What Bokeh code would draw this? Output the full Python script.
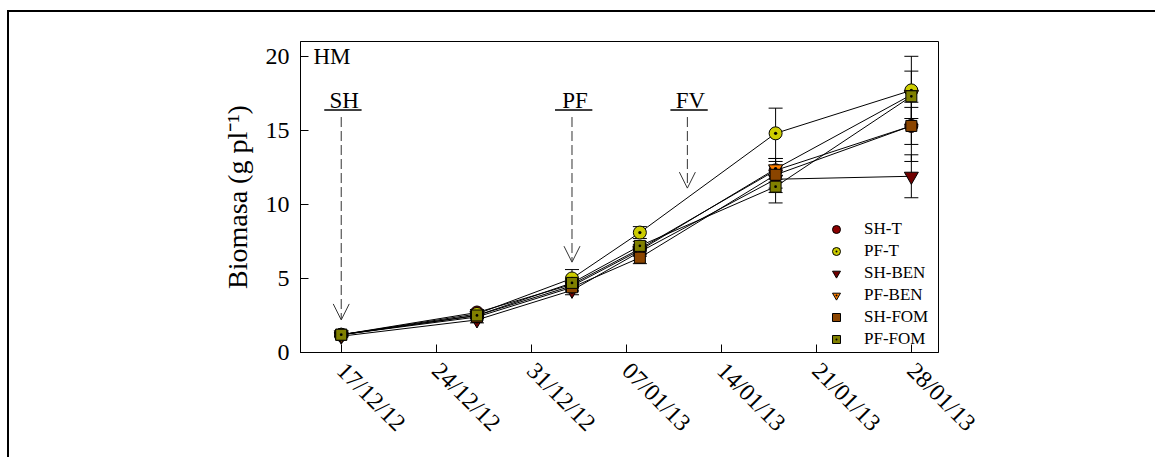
import numpy as np
import pandas as pd
from bokeh.plotting import figure
from bokeh.models import (ColumnDataSource, Whisker, TeeHead, Arrow, OpenHead, Legend,
                          LegendItem, FixedTicker, DatetimeTickFormatter, Range1d)
from bokeh.embed import file_html
from bokeh.resources import INLINE
from bokeh.core.properties import value

# ---------------- data ----------------
dates = ["2012-12-17", "2012-12-27", "2013-01-03", "2013-01-08", "2013-01-18", "2013-01-28"]
series_names = ["SH-T", "PF-T", "SH-BEN", "PF-BEN", "SH-FOM", "PF-FOM"]

sh_t = [1.2, 2.7, 4.6, 7.0, 12.3, 15.3]
sh_t_err = [0.1, 0.2, 0.3, 0.3, 0.8, 2.4]
pf_t = [1.2, 2.6, 5.0, 8.1, 14.8, 17.7]
pf_t_err = [0.1, 0.2, 0.6, 0.4, 1.7, 2.3]
sh_ben = [1.1, 2.2, 4.2, 6.8, 11.7, 11.9]
sh_ben_err = [0.1, 0.2, 0.3, 0.3, 0.9, 1.45]
pf_ben = [1.2, 2.5, 4.5, 6.9, 12.4, 17.4]
pf_ben_err = [0.1, 0.2, 0.3, 0.3, 0.7, 1.6]
sh_fom = [1.2, 2.4, 4.4, 6.4, 12.0, 15.3]
sh_fom_err = [0.1, 0.2, 0.3, 0.4, 0.9, 1.25]
pf_fom = [1.2, 2.5, 4.7, 7.2, 11.2, 17.3]
pf_fom_err = [0.1, 0.2, 0.3, 0.3, 1.1, 0.4]

tick_dates = ["2012-12-17", "2012-12-24", "2012-12-31", "2013-01-07",
              "2013-01-14", "2013-01-21", "2013-01-28"]
tick_labels = ["17/12/12", "24/12/12", "31/12/12", "07/01/13", "14/01/13", "21/01/13", "28/01/13"]
y_ticks = [0, 5, 10, 15, 20]
y_title = "Biomasa (g pl\u207b\u00b9)"

events = ["SH", "PF", "FV"]
event_dates = ["2012-12-17 00:00", "2013-01-03 00:00", "2013-01-11 12:00"]
event_start = [15.9, 15.9, 15.9]
event_end = [2.2, 6.1, 11.1]
event_label_y = 17.0
event_underline_y = 16.37
panel_label = "HM"

# ---------------- styles ----------------
series_values = [sh_t, pf_t, sh_ben, pf_ben, sh_fom, pf_fom]
series_errs = [sh_t_err, pf_t_err, sh_ben_err, pf_ben_err, sh_fom_err, pf_fom_err]
markers = ["circle", "circle_dot", "inverted_triangle", "inverted_triangle", "square", "square_dot"]
sizes = [13, 13, 14, 14, 11, 11]
colors = ["#8B0000", "#CCCC00", "#700000", "#FF8000", "#8B4500", "#808000"]
has_dot = [False, True, False, True, False, True]

FONT = "Liberation Serif"

x_dt = pd.to_datetime(dates)
x_start = pd.Timestamp("2012-12-14")
x_end = pd.Timestamp("2013-01-30")

W, H = 1148, 447
p = figure(width=W, height=H, x_axis_type="datetime", output_backend="svg",
           toolbar_location=None, tools="",
           x_range=Range1d(x_start, x_end), y_range=Range1d(0, 21),
           min_border_left=291, min_border_right=W - 929, min_border_top=29,
           min_border_bottom=H - 340)
p.styles = {"border-left": "2px solid black", "border-top": "2px solid black",
            "margin-left": "7px", "margin-top": "10px"}
p.grid.visible = False
p.outline_line_color = "black"
p.outline_line_width = 1
p.background_fill_color = "white"
p.border_fill_color = "white"

# axes
tick_ms = [float(pd.Timestamp(d).value // 10**6) for d in tick_dates]
p.xaxis.ticker = FixedTicker(ticks=tick_ms)
p.xaxis.formatter = DatetimeTickFormatter(days="%d/%m/%y", months="%d/%m/%y", years="%d/%m/%y")
p.xaxis.major_label_overrides = {t: lab for t, lab in zip(tick_ms, tick_labels)}
p.xaxis.major_label_orientation = -np.pi / 4
p.yaxis.ticker = FixedTicker(ticks=y_ticks)
for ax in (p.xaxis, p.yaxis):
    ax.major_tick_in = 8
    ax.major_tick_out = 0
    ax.minor_tick_line_color = None
    ax.axis_line_color = "black"
    ax.major_tick_line_color = "black"
    ax.major_label_text_font = FONT
    ax.major_label_text_color = "black"
p.xaxis.major_label_text_font_size = "24px"
p.xaxis.major_label_standoff = 14
p.yaxis.major_label_text_font_size = "24px"
p.yaxis.major_label_standoff = 11
p.yaxis.axis_label = y_title
p.yaxis.axis_label_text_font = FONT
p.yaxis.axis_label_text_font_size = "28px"
p.yaxis.axis_label_text_font_style = "normal"
p.yaxis.axis_label_text_color = "black"
p.yaxis.axis_label_standoff = 10

# series
legend_items = []
for name, vals, errs, mk, sz, col, dot in zip(series_names, series_values, series_errs,
                                              markers, sizes, colors, has_dot):
    vals = np.array(vals)
    errs = np.array(errs)
    src = ColumnDataSource(dict(x=x_dt, y=vals, upper=vals + errs, lower=vals - errs))
    p.line("x", "y", source=src, line_color="black", line_width=1)
    p.add_layout(Whisker(base="x", upper="upper", lower="lower", source=src,
                         line_color="black", line_width=1,
                         upper_head=TeeHead(size=14, line_color="black", line_width=1),
                         lower_head=TeeHead(size=14, line_color="black", line_width=1)))
    r = p.scatter("x", "y", source=src, marker=mk, size=sz, fill_color=col,
                  line_color="black", line_width=1)
    rends = [r]
    if dot and mk == "inverted_triangle":
        r2 = p.scatter("x", "y", source=src, marker="dot", size=sz, line_color="black",
                       fill_color="black")
        rends.append(r2)
    legend_items.append(LegendItem(label=name, renderers=rends))

legend = Legend(items=legend_items, location=(526, 2), glyph_width=20, glyph_height=22,
                spacing=0, label_standoff=18, padding=0, margin=0,
                label_text_font=FONT, label_text_font_size="17px", label_text_color="black",
                background_fill_alpha=0, border_line_alpha=0)
p.add_layout(legend)

# event arrows
ev_x = pd.to_datetime(event_dates, format="%Y-%m-%d %H:%M")
ev_src = ColumnDataSource(dict(x=ev_x, y0=event_start, y1=event_end, lab=events,
                               ly=[event_label_y] * len(events)))
p.add_layout(Arrow(x_start="x", y_start="y0", x_end="x", y_end="y1", source=ev_src,
                   line_color="#333333", line_width=1, line_dash="10 4",
                   end=OpenHead(size=16, line_color="#333333", line_width=1)))
p.text("x", "ly", text="lab", source=ev_src, text_font=value(FONT), text_font_size="23px",
       text_align="center", text_baseline="middle", text_color="black", x_offset=3)
p.segment(x0=[x - pd.Timedelta(hours=30) for x in ev_x],
          y0=[event_underline_y] * 3,
          x1=[x + pd.Timedelta(hours=36) for x in ev_x],
          y1=[event_underline_y] * 3, line_color="black", line_width=1.5)

# panel label
p.text(x=[x_start + pd.Timedelta(hours=23)], y=[20], text=[panel_label], text_font=value(FONT),
       text_font_size="23px", text_align="left", text_baseline="middle", text_color="black")

open("out.html", "w").write(file_html(p, INLINE))
